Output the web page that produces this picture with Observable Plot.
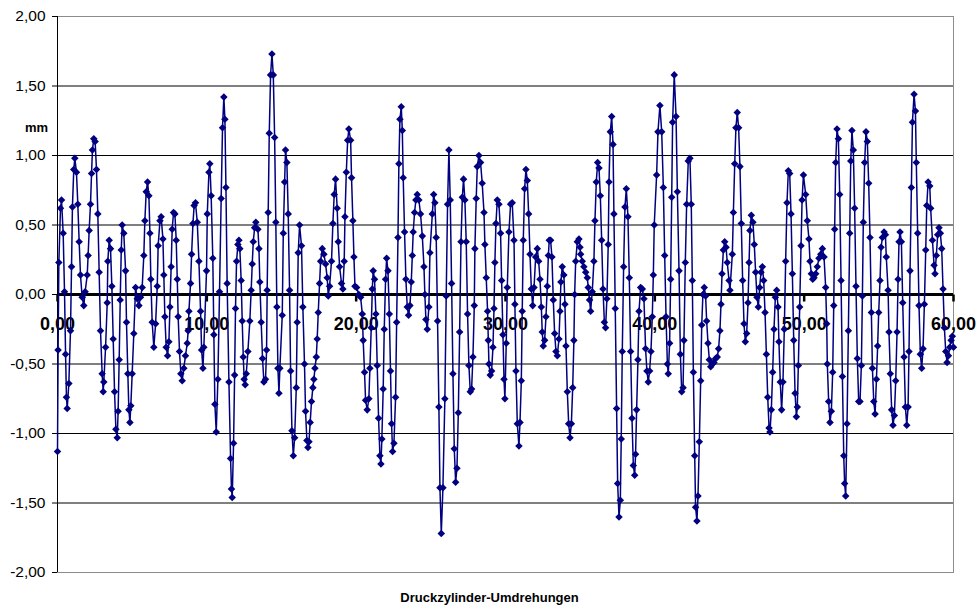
<!DOCTYPE html>
<html>
<head>
<meta charset="utf-8">
<script src="https://cdn.jsdelivr.net/npm/d3@7"></script>
<script src="https://cdn.jsdelivr.net/npm/@observablehq/plot@0.6"></script>
<style>
  html, body { margin: 0; padding: 0; background: #fff; }
  #chart { width: 977px; height: 609px; }
</style>
</head>
<body>
<div id="chart"></div>
<script>
// Druckzylinder-Umdrehungen (revolutions) and deviation in mm
const revs = [
  0.00,0.04,0.09,0.20,0.27,0.38,0.47,0.54,0.60,0.65,0.76,0.87,0.94,1.00,1.09,1.16,1.27,1.36,1.45,1.54,1.65,1.76,1.85,1.99,2.05,2.12,2.21,2.28,2.34,2.43,2.52,2.61,2.70,2.79,2.88,2.99,3.06,3.10,3.22,3.33,3.37,3.46,3.55,3.64,3.73,3.82,3.91,4.00,4.06,4.13,4.20,4.27,4.33,4.44,4.56,4.62,4.71,4.78,4.85,
  4.91,5.00,5.11,5.23,5.34,5.45,5.56,5.67,5.78,5.85,5.94,6.03,6.12,6.19,6.25,6.34,6.45,6.57,6.68,6.74,6.86,6.94,7.06,7.12,7.19,7.28,7.37,7.46,7.53,7.61,7.68,7.77,7.86,7.95,8.02,8.08,8.17,8.26,8.35,8.46,8.57,8.69,8.75,8.80,8.91,8.98,9.07,9.15,9.24,9.36,9.47,9.58,9.65,9.74,9.80,
  9.98,10.03,10.14,10.20,10.29,10.40,10.47,10.54,10.63,10.74,10.85,10.96,11.05,11.14,11.21,11.28,11.36,11.48,11.59,11.65,11.70,11.79,11.86,11.92,11.99,12.08,12.15,12.21,12.30,12.37,12.44,12.50,12.57,12.64,12.75,12.88,12.97,13.04,13.11,13.20,13.28,13.42,13.49,13.55,13.64,13.73,13.82,13.93,14.00,14.04,14.11,14.18,14.27,14.36,14.45,14.54,14.62,14.69,14.76,14.83,14.89,
  15.05,15.12,15.21,15.27,15.36,15.45,15.54,15.61,15.70,15.79,15.88,15.99,16.05,16.12,16.21,16.34,16.43,16.54,16.61,16.70,16.77,16.84,16.92,17.01,17.10,17.17,17.24,17.33,17.39,17.46,17.55,17.62,17.73,17.84,17.95,18.06,18.13,18.22,18.35,18.44,18.53,18.62,18.73,18.80,18.89,19.02,19.11,19.20,19.25,19.34,19.43,19.51,19.63,19.69,19.78,19.85,19.92,
  20.03,20.18,20.30,20.41,20.47,20.56,20.63,20.74,20.85,20.92,21.01,21.08,21.14,21.23,21.32,21.41,21.50,21.59,21.66,21.72,21.81,21.88,21.97,22.04,22.13,22.22,22.30,22.37,22.44,22.53,22.64,22.71,22.80,22.86,22.93,23.02,23.09,23.15,23.24,23.33,23.42,23.51,23.60,23.69,23.76,23.82,23.91,24.00,24.09,24.20,24.31,24.43,24.54,24.60,24.67,24.76,24.87,24.94,
  25.10,25.19,25.27,25.36,25.45,25.54,25.61,25.70,25.81,25.94,26.03,26.12,26.21,26.30,26.39,26.48,26.57,26.66,26.75,26.84,26.93,27.02,27.11,27.19,27.28,27.37,27.46,27.55,27.64,27.73,27.82,27.91,27.95,28.04,28.11,28.22,28.33,28.44,28.56,28.62,28.71,28.80,28.85,28.89,28.98,29.07,29.16,29.23,29.29,29.36,29.45,29.56,29.67,29.74,29.83,29.90,29.96,
  30.05,30.12,30.23,30.34,30.45,30.57,30.63,30.70,30.79,30.90,30.97,31.06,31.12,31.19,31.28,31.37,31.46,31.55,31.64,31.73,31.82,31.91,32.02,32.13,32.22,32.31,32.40,32.46,32.53,32.62,32.71,32.80,32.87,32.93,33.02,33.11,33.20,33.29,33.38,33.47,33.58,33.65,33.71,33.80,33.91,33.98,34.05,34.14,34.23,34.32,34.41,34.50,34.58,34.63,34.70,34.81,34.92,34.99,
  35.03,35.14,35.25,35.37,35.48,35.54,35.63,35.70,35.81,35.92,35.99,36.08,36.17,36.26,36.35,36.44,36.53,36.62,36.70,36.79,36.88,36.93,37.02,37.11,37.20,37.26,37.35,37.44,37.51,37.60,37.69,37.75,37.82,37.91,38.00,38.09,38.20,38.29,38.38,38.47,38.56,38.65,38.71,38.78,38.87,38.94,39.05,39.16,39.27,39.38,39.47,39.56,39.65,39.74,39.83,39.90,39.96,
  40.12,40.21,40.34,40.46,40.57,40.66,40.75,40.84,40.90,40.99,41.06,41.13,41.19,41.30,41.42,41.51,41.62,41.71,41.80,41.89,41.95,42.04,42.13,42.24,42.35,42.44,42.51,42.58,42.67,42.73,42.82,42.89,42.98,43.07,43.14,43.22,43.31,43.40,43.47,43.56,43.65,43.74,43.85,43.96,44.07,44.18,44.27,44.36,44.43,44.50,44.59,44.68,44.77,44.85,44.97,45.03,
  45.19,45.26,45.35,45.43,45.52,45.61,45.70,45.79,45.88,45.97,46.06,46.15,46.24,46.31,46.37,46.46,46.57,46.66,46.75,46.84,46.93,47.02,47.11,47.20,47.29,47.38,47.47,47.56,47.65,47.71,47.80,47.89,47.98,48.07,48.16,48.25,48.31,48.40,48.49,48.58,48.67,48.76,48.85,48.94,49.03,49.12,49.21,49.30,49.39,49.48,49.54,49.61,49.70,49.79,49.86,49.95,
  50.10,50.21,50.32,50.39,50.48,50.57,50.66,50.77,50.88,50.99,51.11,51.22,51.33,51.44,51.51,51.55,51.64,51.73,51.82,51.91,51.98,52.04,52.11,52.20,52.29,52.38,52.47,52.56,52.65,52.71,52.78,52.87,52.96,53.05,53.12,53.20,53.29,53.38,53.47,53.56,53.65,53.74,53.83,53.90,53.96,54.05,54.14,54.23,54.32,54.41,54.50,54.57,54.66,54.75,54.84,54.92,54.99,55.08,
  55.15,55.24,55.35,55.44,55.50,55.62,55.68,55.77,55.86,55.95,56.04,56.13,56.22,56.29,56.35,56.42,56.51,56.60,56.69,56.78,56.87,56.96,57.02,57.09,57.18,57.25,57.36,57.45,57.51,57.60,57.69,57.78,57.87,57.96,58.05,58.14,58.21,58.30,58.41,58.47,58.59,58.70,58.76,58.85,58.94,59.03,59.12,59.21,59.30,59.39,59.48,59.57,59.66,59.75,59.84,59.92,60.00
];
const mm = [
  -1.13,-0.40,0.23,0.62,0.68,0.44,0.02,-0.43,-0.74,-0.82,-0.64,-0.26,0.20,0.63,0.90,0.98,0.88,0.65,0.38,0.14,-0.02,-0.08,0.02,0.14,0.28,0.46,0.65,0.87,1.04,1.12,1.10,0.90,0.58,0.16,-0.26,-0.57,-0.70,-0.63,-0.38,-0.06,0.24,0.39,0.33,0.06,-0.32,-0.70,-0.97,-1.03,-0.84,-0.47,-0.04,0.32,0.50,0.44,0.17,-0.20,-0.57,-0.83,-0.92,
  -0.80,-0.57,-0.28,0.05,-0.03,-0.08,-0.02,0.05,0.28,0.53,0.74,0.81,0.71,0.44,0.11,-0.20,-0.38,-0.21,0.06,0.35,0.53,0.56,0.40,0.14,-0.16,-0.38,-0.44,-0.34,-0.09,0.20,0.47,0.59,0.58,0.39,0.11,-0.16,-0.41,-0.57,-0.62,-0.53,-0.44,-0.35,-0.26,-0.12,0.08,0.29,0.51,0.64,0.66,0.52,0.24,-0.12,-0.40,-0.53,-0.38,
  0.17,0.58,0.88,0.94,0.71,0.26,-0.29,-0.79,-0.99,-0.61,0.02,0.69,1.20,1.42,1.26,0.77,0.08,-0.63,-1.18,-1.40,-1.46,-1.07,-0.58,-0.10,0.24,0.36,0.39,0.33,0.10,-0.19,-0.45,-0.61,-0.65,-0.57,-0.41,-0.19,0.03,0.22,0.38,0.48,0.52,0.47,0.33,0.09,-0.20,-0.46,-0.63,-0.61,-0.40,0.03,0.59,1.16,1.58,1.73,1.58,1.13,0.52,-0.09,-0.53,-0.71,-0.53,
  -0.15,0.44,0.81,1.04,0.95,0.58,0.03,-0.55,-0.98,-1.16,-1.03,-0.67,-0.20,0.30,0.50,0.35,-0.09,-0.50,-0.84,-1.05,-1.10,-1.06,-0.92,-0.77,-0.67,-0.61,-0.53,-0.45,-0.32,-0.13,0.08,0.24,0.33,0.29,0.22,0.12,-0.01,0.06,0.24,0.51,0.72,0.83,0.62,0.38,0.20,0.08,0.04,0.24,0.56,0.88,1.11,1.19,1.11,0.84,0.53,0.27,0.06,
  0.05,0.00,-0.02,-0.14,-0.33,-0.56,-0.76,-0.83,-0.75,-0.53,-0.24,0.04,0.17,0.11,-0.14,-0.51,-0.89,-1.16,-1.22,-1.04,-0.68,-0.25,0.11,0.26,0.17,-0.14,-0.55,-0.93,-1.13,-1.07,-0.74,-0.20,0.41,0.94,1.26,1.35,1.18,0.84,0.45,0.11,-0.09,-0.15,-0.08,0.09,0.28,0.45,0.59,0.68,0.72,0.68,0.58,0.42,0.20,0.00,-0.18,-0.25,-0.09,0.30,
  0.58,0.72,0.66,0.41,-0.19,-0.81,-1.39,-1.72,-1.39,-0.75,-0.01,0.65,1.04,0.68,0.08,-0.57,-1.11,-1.35,-1.25,-0.85,-0.27,0.38,0.70,0.83,0.68,0.38,-0.14,-0.51,-0.70,-0.68,-0.45,-0.08,0.33,0.69,0.92,1.00,0.95,0.80,0.59,0.36,0.12,-0.12,-0.33,-0.50,-0.58,-0.55,-0.38,-0.10,0.23,0.51,0.68,0.65,0.44,0.10,-0.29,-0.61,-0.75,
  -0.35,0.05,0.45,0.65,0.66,0.39,-0.07,-0.55,-0.93,-1.09,-0.92,-0.62,-0.12,0.39,0.76,0.90,0.82,0.58,0.29,0.04,-0.08,0.05,0.27,0.33,0.24,0.11,-0.09,-0.27,-0.37,-0.33,-0.16,0.06,0.28,0.39,0.39,0.27,-0.04,-0.28,-0.41,-0.44,-0.32,-0.12,0.09,0.20,0.14,-0.07,-0.37,-0.70,-0.93,-1.03,-0.93,-0.67,-0.33,0.00,0.24,0.38,0.40,0.34,
  0.29,0.24,0.20,0.16,0.12,0.05,-0.04,-0.12,0.02,0.24,0.53,0.81,0.95,0.91,0.71,0.39,0.04,-0.20,-0.24,-0.03,0.36,0.81,1.17,1.28,1.08,0.58,-0.10,-0.82,-1.36,-1.60,-1.48,-1.04,-0.41,0.20,0.63,0.76,0.56,0.12,-0.41,-0.89,-1.23,-1.30,-1.15,-0.83,-0.47,-0.12,0.05,0.04,-0.03,-0.39,-0.55,-0.63,-0.55,-0.41,-0.16,0.14,0.50,
  0.86,1.17,1.36,1.17,0.77,0.28,-0.16,-0.50,-0.57,-0.35,0.11,0.70,1.24,1.58,1.28,0.74,0.17,-0.43,-0.70,-0.67,-0.33,0.23,0.65,0.96,0.98,0.65,0.10,-0.56,-1.16,-1.53,-1.63,-1.45,-1.06,-0.62,-0.22,0.00,0.05,-0.01,-0.19,-0.35,-0.47,-0.52,-0.50,-0.49,-0.46,-0.45,-0.39,-0.26,-0.07,0.15,0.32,0.38,0.34,0.23,0.10,0.03,
  0.29,0.59,0.94,1.20,1.31,1.20,0.92,0.51,0.10,-0.21,-0.34,-0.28,-0.06,0.23,0.46,0.57,0.52,0.36,0.16,-0.02,-0.09,0.05,0.16,0.20,0.10,-0.13,-0.43,-0.74,-0.96,-0.99,-0.83,-0.56,-0.25,-0.02,0.03,-0.09,-0.34,-0.63,-0.83,-0.63,-0.25,0.24,0.66,0.89,0.87,0.58,0.15,-0.33,-0.71,-0.88,-0.81,-0.51,-0.09,0.35,0.68,0.86,
  0.72,0.53,0.40,0.24,0.15,0.11,0.12,0.15,0.20,0.26,0.29,0.33,0.27,0.05,-0.21,-0.50,-0.77,-0.92,-0.84,-0.56,-0.08,0.47,0.95,1.19,1.12,0.72,0.10,-0.59,-1.16,-1.36,-1.45,-0.93,-0.26,0.44,0.96,1.18,1.04,0.62,0.06,-0.46,-0.77,-0.77,-0.51,-0.01,0.52,0.95,1.17,1.10,0.80,0.41,-0.13,-0.53,-0.77,-0.86,-0.61,-0.37,-0.13,0.10,
  0.34,0.41,0.45,0.43,0.27,0.03,-0.27,-0.57,-0.83,-0.94,-0.87,-0.62,-0.27,0.11,0.38,0.45,0.38,-0.06,-0.45,-0.81,-0.94,-0.81,-0.41,0.17,0.77,1.24,1.44,1.32,0.95,0.44,-0.08,-0.43,-0.53,-0.39,-0.07,0.32,0.64,0.81,0.78,0.62,0.39,0.21,0.15,0.28,0.43,0.48,0.44,0.33,0.04,-0.24,-0.41,-0.49,-0.44,-0.38,-0.33,-0.30,-0.38
];
const xTicks = [0, 10, 20, 30, 40, 50, 60];
const yTicks = [-2, -1.5, -1, -0.5, 0, 0.5, 1, 1.5, 2];
const yLabel = "mm";
const xTitle = "Druckzylinder-Umdrehungen";

const n = Math.min(revs.length, mm.length);
if (revs.length !== mm.length) console.warn("length mismatch", revs.length, mm.length);
const data = d3.range(n).map(i => ({rev: revs[i], mm: mm[i]}));

const fmt = v => d3.format(".2f")(v).replace(".", ",").replace("−", "-");
const tickMark = { draw(ctx) { ctx.moveTo(0, 0); ctx.lineTo(0, 7); } };
const FONT = "'Liberation Sans', Arial, Helvetica, sans-serif";

const chart = Plot.plot({
  width: 977,
  height: 609,
  marginTop: 16,
  marginBottom: 37,
  marginLeft: 57,
  marginRight: 24,
  style: { fontFamily: FONT, background: "#fff", color: "#000", overflow: "visible" },
  x: { domain: [0, 60], axis: null },
  y: { domain: [-2, 2] },
  marks: [
    Plot.ruleY(yTicks.filter(v => Math.abs(v) < 2 && v !== 0), { stroke: "#000", strokeWidth: 1 }),
    Plot.frame({ stroke: "#8c8c8c", strokeWidth: 1 }),
    Plot.ruleX([0], { stroke: "#000", strokeWidth: 1 }),
    Plot.axisY({ ticks: yTicks, tickFormat: fmt, tickSize: 5, tickPadding: 7, fontSize: 15.5, label: null, stroke: "#000" }),
    Plot.ruleY([0], { stroke: "#000", strokeWidth: 3 }),
    Plot.dot(xTicks, { x: d => d, y: () => 0, symbol: tickMark, r: 4, fill: "none", stroke: "#000", strokeWidth: 2.5 }),
    Plot.text(xTicks, { x: d => d, y: () => 0, text: d => fmt(d), dy: 30, fontSize: 18, fontWeight: "bold", fill: "#000" }),
    Plot.line(data, { x: "rev", y: "mm", stroke: "#000080", strokeWidth: 1.5 }),
    Plot.dot(data, { x: "rev", y: "mm", symbol: "square", rotate: 45, r: 3, fill: "#000080", stroke: null }),
    Plot.text([yLabel], { frameAnchor: "top-left", text: d => d, dx: -21, dy: 106, textAnchor: "middle", fontSize: 13, fontWeight: "bold", fill: "#000" }),
    Plot.text([xTitle], { frameAnchor: "bottom", text: d => d, dx: -16, dy: 29, fontSize: 13, fontWeight: "bold", fill: "#000" })
  ]
});
document.getElementById("chart").appendChild(chart);
</script>
</body>
</html>
